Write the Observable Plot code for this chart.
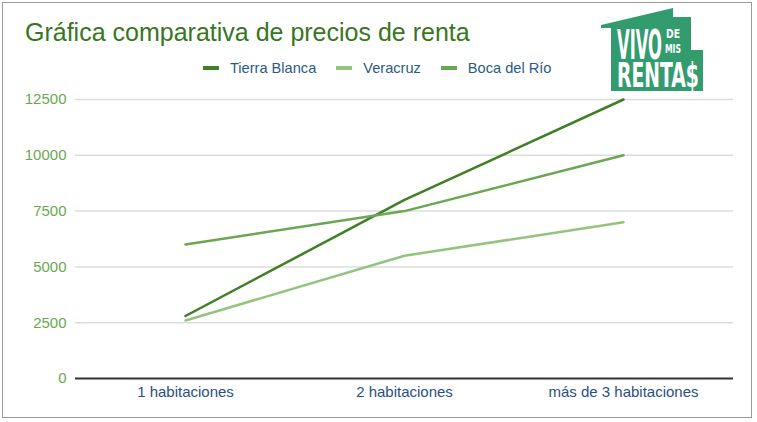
<!DOCTYPE html>
<html>
<head>
<meta charset="utf-8">
<script src="https://cdn.jsdelivr.net/npm/d3@7"></script>
<script src="https://cdn.jsdelivr.net/npm/@observablehq/plot@0.6"></script>
<style>
  html, body { margin: 0; padding: 0; background: #fff; }
  #wrap { position: relative; width: 757px; height: 422px; overflow: hidden; font-family: "Liberation Sans", Arial, sans-serif; }
  #frame { position: absolute; left: 2px; top: 2px; width: 750px; height: 416px; border: 1px solid #9a9a9a; box-sizing: border-box; }
  #title { position: absolute; left: 25px; top: 18px; font-size: 25px; color: #38761d; white-space: nowrap; }
  #legend { position: absolute; left: 203px; top: 60px; font-size: 14.6px; color: #2a5b84; white-space: nowrap; display: flex; }
  .item { display: flex; align-items: center; margin-right: 20px; }
  .sw { width: 16px; height: 4px; margin-right: 11px; }
  #chart { position: absolute; left: 0; top: 85px; }
  #logo { position: absolute; left: 590px; top: 0px; }
  #logo text { font-family: "DejaVu Sans Condensed", "DejaVu Sans", sans-serif; font-weight: bold; fill: #fff; }
</style>
</head>
<body>
<div id="wrap">
  <div id="frame"></div>
  <div id="title">Gráfica comparativa de precios de renta</div>
  <div id="legend"></div>
  <svg id="logo" width="125" height="100" viewBox="590 0 125 100">
    <polygon fill="#339c6e" points="601,25 673,8 673,17 691,17 691,50 703,50 703,91 611,91 611,28 601,28"/>
    <text class="fit" data-x="617" data-base="59" data-w="45" data-cap="30" font-size="20">VIVO</text>
    <text class="fit" data-x="666" data-base="38" data-w="14" data-cap="9" font-size="10">DE</text>
    <text class="fit" data-x="665" data-base="53" data-w="16" data-cap="9" font-size="10">MIS</text>
    <text class="fit" data-x="617" data-base="87" data-w="82" data-cap="24" font-size="20">RENTA$</text>
  </svg>
  <div id="chart"></div>
</div>
<script>
const categories = ["1 habitaciones", "2 habitaciones", "más de 3 habitaciones"];
const seriesNames = ["Tierra Blanca", "Veracruz", "Boca del Río"];
const tierraBlanca = [2800, 8000, 12500];
const veracruz = [2600, 5500, 7000];
const bocaDelRio = [6000, 7500, 10000];
const yTicks = [0, 2500, 5000, 7500, 10000, 12500];
const colors = ["#3f7f25", "#93c47d", "#6aa84f"];

// fit logo words into their boxes
document.querySelectorAll("#logo text.fit").forEach(t => {
  const fs = +t.getAttribute("font-size");
  const w = t.getComputedTextLength();
  const sx = (+t.dataset.w) / w;
  const sy = (+t.dataset.cap) / (0.73 * fs);
  t.setAttribute("transform", `translate(${t.dataset.x},${t.dataset.base}) scale(${sx},${sy})`);
});

const seriesValues = [tierraBlanca, veracruz, bocaDelRio];
const data = [];
seriesNames.forEach((s, i) => categories.forEach((c, j) => data.push({series: s, cat: c, value: seriesValues[i][j]})));

const legend = document.getElementById("legend");
seriesNames.forEach((s, i) => {
  const it = document.createElement("div");
  it.className = "item";
  it.innerHTML = `<span class="sw" style="background:${colors[i]}"></span><span>${s}</span>`;
  legend.appendChild(it);
});

const chart = Plot.plot({
  width: 757,
  height: 337,
  marginTop: 14,
  marginBottom: 44,
  marginLeft: 75,
  marginRight: 24,
  style: { fontFamily: "Liberation Sans, Arial, sans-serif", fontSize: "15px", background: "transparent" },
  x: { type: "point", domain: categories, padding: 0.5 },
  y: { domain: [0, 12500] },
  color: { domain: seriesNames, range: colors },
  marks: [
    Plot.ruleY(yTicks.filter(d => d > 0), { stroke: "#dcdcdc", strokeWidth: 1.5 }),
    Plot.ruleY([0], { stroke: "#333", strokeWidth: 2 }),
    Plot.axisY({ ticks: yTicks, tickFormat: d => String(d), tickSize: 0, tickPadding: 9, fill: "#6aa84f", label: null, fontSize: 15 }),
    Plot.axisX({ tickSize: 0, tickPadding: 8, fill: "#2a4f7f", label: null, fontSize: 15 }),
    Plot.line(data, { x: "cat", y: "value", z: "series", stroke: "series", strokeWidth: 2.5 })
  ]
});
document.getElementById("chart").appendChild(chart);
</script>
</body>
</html>
